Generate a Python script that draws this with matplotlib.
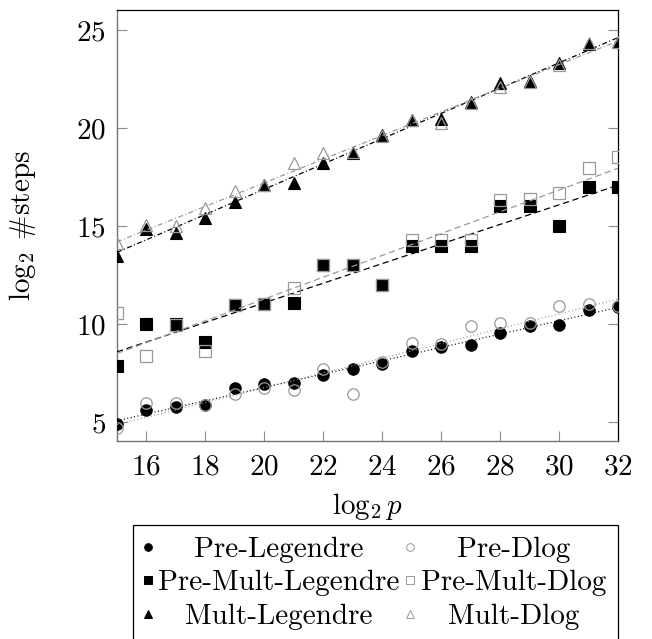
import numpy as np
import matplotlib
matplotlib.use('Agg')
import matplotlib.pyplot as plt
from matplotlib.lines import Line2D
from matplotlib.transforms import Affine2D

plt.rcParams['font.family'] = 'serif'
plt.rcParams['font.serif'] = ['cmr10']
plt.rcParams['mathtext.fontset'] = 'cm'
plt.rcParams['axes.formatter.use_mathtext'] = True

# ---- data ----
x = list(range(15, 33))
pre_legendre = [4.90, 5.61, 5.78, 5.85, 6.75, 6.92, 6.97, 7.40, 7.69, 7.94,
                8.64, 8.81, 8.93, 9.56, 9.90, 9.95, 10.71, 10.88]
pre_dlog = [4.68, 5.95, 5.95, 5.85, 6.41, 6.72, 6.63, 7.69, 6.43, 8.04,
            9.05, 8.96, 9.91, 10.03, 10.07, 10.92, 11.02, 10.90]
pre_mult_legendre = [7.86, 10.0, 10.0, 9.10, 10.95, 11.0, 11.05, 13.0, 13.0, 12.0,
                     14.0, 14.0, 14.0, 16.0, 16.0, 15.0, 17.0, 17.0]
pre_mult_dlog = [10.54, 8.37, 9.95, 8.64, 10.95, 11.0, 11.82, 13.0, 13.0, 12.0,
                 14.3, 14.27, 14.27, 16.35, 16.4, 16.7, 17.94, 18.5]
mult_legendre = [13.47, 14.85, 14.66, 15.39, 16.24, 17.1, 17.21, 18.23, 18.74, 19.64,
                 20.41, 20.44, 21.34, 22.28, 22.41, 23.33, 24.27, 24.40]
mult_dlog = [14.15, 15.05, 15.0, 15.9, 16.8, 17.1, 18.23, 18.74, 18.8, 19.6,
             20.4, 20.24, 21.3, 22.08, 22.35, 23.2, 24.35, 24.4]

series_names = ['Pre-Legendre', 'Pre-Dlog', 'Pre-Mult-Legendre',
                'Pre-Mult-Dlog', 'Mult-Legendre', 'Mult-Dlog']
series_values = [pre_legendre, pre_dlog, pre_mult_legendre,
                 pre_mult_dlog, mult_legendre, mult_dlog]
x_ticks = [16, 18, 20, 22, 24, 26, 28, 30, 32]
y_ticks = [5, 10, 15, 20, 25]

GRAY = '0.6'
styles = [
    dict(marker='o', filled=True, color='black', ls=(0, (0.8, 2.0))),
    dict(marker='o', filled=False, color=GRAY, ls=(0, (0.8, 2.0))),
    dict(marker='s', filled=True, color='black', ls=(0, (5, 3))),
    dict(marker='s', filled=False, color=GRAY, ls=(0, (5, 3))),
    dict(marker='^', filled=True, color='black', ls=(0, (4, 2, 0.8, 2))),
    dict(marker='^', filled=False, color=GRAY, ls=(0, (4, 2, 0.8, 2))),
]

FS = 21
W, H = 652, 639
fig = plt.figure(figsize=(W / 100, H / 100), dpi=100)
ax = fig.add_axes([117 / W, 1 - 441 / H, 501 / W, 431 / H])

xa = np.array(x, dtype=float)
handles = []
for i, (name, vals, st) in enumerate(zip(series_names, series_values, styles)):
    ya = np.array(vals)
    ms = 8.2 if st['marker'] != '^' else 8.8
    if st['filled']:
        ax.plot(xa, ya, ls='none', marker=st['marker'], ms=ms,
                mfc=st['color'], mec=st['color'], mew=0.8, zorder=3 + i)
    else:
        ax.plot(xa, ya, ls='none', marker=st['marker'], ms=ms,
                mfc='none', mec=st['color'], mew=0.9, zorder=3 + i)
    # linear regression line through each series
    k, b = np.polyfit(xa, ya, 1)
    xf = np.array([xa.min(), xa.max()])
    ax.plot(xf, k * xf + b, color=st['color'], lw=0.9, ls=st['ls'], zorder=2 + i)
    handles.append(Line2D([], [], ls='none', marker=st['marker'], ms=5.5,
                          mfc=st['color'] if st['filled'] else 'none',
                          mec=st['color'], mew=0.7))

ax.set_xlim(15, 32)
ax.set_ylim(4.03, 26.02)
ax.set_xticks(x_ticks)
ax.set_yticks(y_ticks)
ax.tick_params(axis='both', direction='in', length=7.5, width=0.8,
               color='0.55', labelsize=FS)
ax.tick_params(axis='x', pad=9.5)
ax.tick_params(axis='y', pad=8, right=True)
for side in ['top', 'right']:
    ax.spines[side].set_color('black')
    ax.spines[side].set_linewidth(0.9)
for side in ['left', 'bottom']:
    ax.spines[side].set_color('0.45')
    ax.spines[side].set_linewidth(1.0)

ax.set_xlabel(r'$\log_2 p$', fontsize=FS)
ax.set_ylabel(r'$\log_2\;\#\mathrm{steps}$', fontsize=FS)
ax.xaxis.set_label_coords(0.5, -(507 - 441) / 431)
ax.yaxis.set_label_coords(-(117 - 23) / 501, 0.5)
ax.xaxis.label.set_va('center')
ax.yaxis.label.set_va('center')

# legend filled row by row: (0,1), (2,3), (4,5)
order = [0, 2, 4, 1, 3, 5]
leg = fig.legend([handles[j] for j in order], [series_names[j] for j in order],
                 ncol=2, loc='upper left',
                 bbox_to_anchor=(133 / W, 1 - 525 / H, (618 - 133) / W, 0),
                 mode='expand', fontsize=FS, frameon=True, fancybox=False,
                 edgecolor='black', framealpha=1, borderpad=0.4,
                 handlelength=0.2, handletextpad=0.26, labelspacing=0.24,
                 borderaxespad=0, columnspacing=0.2)
leg.get_frame().set_linewidth(0.9)

# center legend labels within their columns (as in the reference)
fig.canvas.draw()
renderer = fig.canvas.get_renderer()
texts = leg.get_texts()
widths = [t.get_window_extent(renderer).width for t in texts]
cols = [[0, 1, 2], [3, 4, 5]]
for col in cols:
    mw = max(widths[j] for j in col)
    for j in col:
        dx = (mw - widths[j]) / 2
        t = texts[j]
        t.set_transform(t.get_transform() + Affine2D().translate(dx, 0))

fig.savefig('out.png', dpi=100)
